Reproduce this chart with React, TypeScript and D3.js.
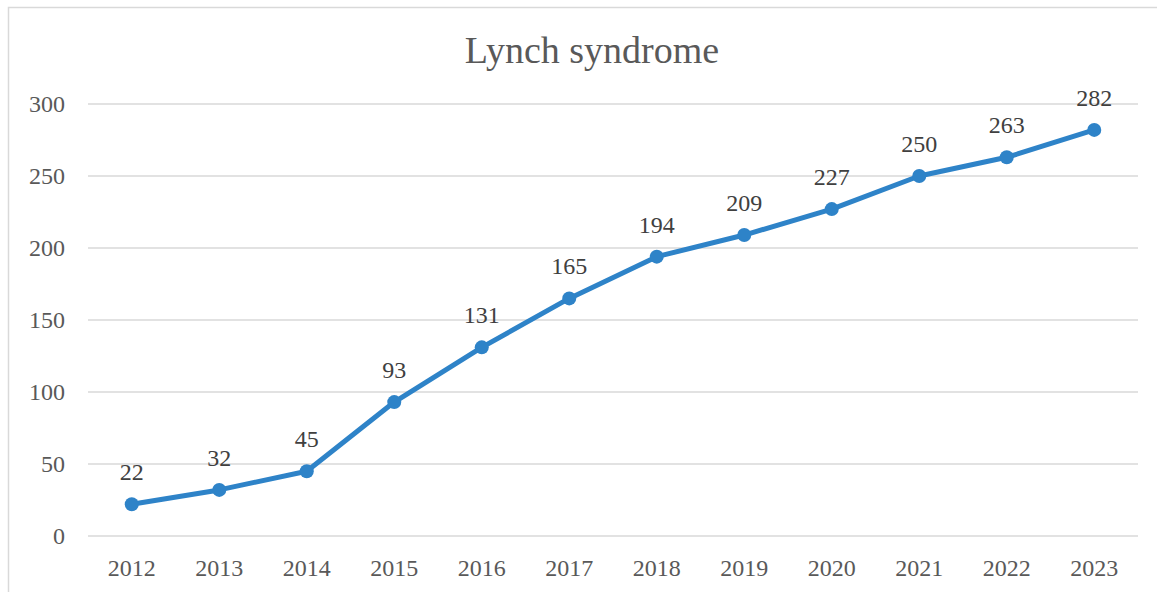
import React from "react";
import * as d3 from "d3";

const title = "Lynch syndrome";
const years = ["2012", "2013", "2014", "2015", "2016", "2017", "2018", "2019", "2020", "2021", "2022", "2023"];
const cases = [22, 32, 45, 93, 131, 165, 194, 209, 227, 250, 263, 282];
const yTicks = [0, 50, 100, 150, 200, 250, 300];

const W = 1157;
const H = 592;
const font = "'Liberation Serif', 'DejaVu Serif', serif";
const blue = "#2E83C8";
const grey = "#595959";

const App = () => {
  const margin = { top: 104, right: 19, bottom: 56, left: 88 };

  const x = d3
    .scaleBand()
    .domain(years)
    .range([margin.left, W - margin.right]);

  const y = d3
    .scaleLinear()
    .domain([0, 300])
    .range([H - margin.bottom, margin.top]);

  const line = d3
    .line<number>()
    .x((_, i) => (x(years[i]) || 0) + x.bandwidth() / 2)
    .y((d) => y(d));

  return (
    <svg
      width={W}
      height={H}
      style={{ position: "absolute", left: 0, top: 0, background: "#fff" }}
    >
      {/* chart frame */}
      <rect x={8.5} y={7.5} width={W + 10} height={H + 10} fill="none" stroke="#D9D9D9" strokeWidth={1.5} />

      <text x={592} y={63} textAnchor="middle" fontFamily={font} fontSize={38} fill={grey}>
        {title}
      </text>

      {yTicks.map((t) => (
        <g key={t}>
          <line x1={margin.left} x2={W - margin.right} y1={y(t)} y2={y(t)} stroke="#D9D9D9" strokeWidth={1.5} />
          <text x={65} y={y(t)} dy="0.35em" textAnchor="end" fontFamily={font} fontSize={24} fill={grey}>
            {t}
          </text>
        </g>
      ))}

      {years.map((yr) => (
        <text
          key={yr}
          x={(x(yr) || 0) + x.bandwidth() / 2}
          y={576}
          textAnchor="middle"
          fontFamily={font}
          fontSize={24}
          fill={grey}
        >
          {yr}
        </text>
      ))}

      <path d={line(cases) || ""} fill="none" stroke={blue} strokeWidth={5} strokeLinejoin="round" />

      {cases.map((v, i) => {
        const cx = (x(years[i]) || 0) + x.bandwidth() / 2;
        return (
          <g key={i}>
            <circle cx={cx} cy={y(v)} r={7} fill={blue} />
            <text x={cx} y={y(v) - 24} textAnchor="middle" fontFamily={font} fontSize={24} fill="#404040">
              {v}
            </text>
          </g>
        );
      })}
    </svg>
  );
};

export default App;
